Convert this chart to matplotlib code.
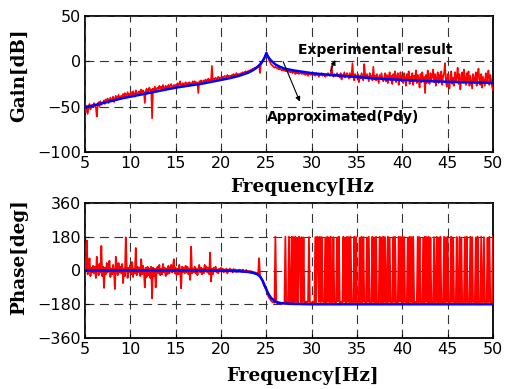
import numpy as np
import matplotlib
matplotlib.use("Agg")
import matplotlib.pyplot as plt

# ---------------- data ----------------
freq = np.linspace(5, 50, 451)  # measured frequency grid [Hz]

gain_meas = [
    -52, -56, -49, -58, -50, -47, -53, -51, -48, -50,
    -46, -49, -51, -61, -47, -45, -50, -44, -48, -46,
    -45, -43, -47, -42, -44, -41, -46, -43, -40, -44,
    -42, -39, -45, -41, -38, -43, -40, -37, -41, -39,
    -38, -41, -36, -39, -35, -40, -37, -34, -38, -36,
    -37, -34, -38, -33, -36, -39, -32, -35, -37, -34,
    -33, -36, -31, -35, -32, -34, -46, -33, -30, -34,
    -32, -29, -33, -31, -63, -30, -34, -28, -32, -30,
    -29, -31, -27, -30, -28, -32, -26, -29, -31, -27,
    -28, -30, -26, -29, -27, -25, -28, -30, -26, -27,
    -26, -28, -24, -27, -25, -22, -27, -26, -24, -28,
    -25, -23, -26, -24, -27, -23, -25, -24, -26, -22,
    -24, -22, -25, -23, -24, -35, -22, -23, -21, -24,
    -22, -21, -23, -20, -22, -21, -19, -22, -20, -21,
    -5, -21, -19, -20, -18, -20, -19, -17, -19, -18,
    -18, -19, -17, -18, -16, -17, -18, -15, -17, -16,
    -16, -17, -15, -16, -14, -16, -15, -13, -15, -14,
    -14, -15, -13, -14, -12, -13, -12, -11, -12, -11,
    -11, -10, -11, -9, -10, -8, -9, -7, -8, -6,
    -6, -5, -4, -13, -3, -2, 0, 2, 4, 6,
    10, 7, 4, 1, -1, -3, -4, -5, -6, -7,
    -6, -7, -8, -7, -9, -8, -9, -10, -9, -10,
    -9, -11, -10, -11, -10, -12, -11, -12, -11, -13,
    -11, -12, -14, -12, -13, -12, -14, -13, -12, -14,
    -13, -14, -12, -15, -13, -14, -16, -13, -14, -15,
    -14, -13, -15, -14, -16, -13, -15, -14, -17, -14,
    -15, -13, -16, -14, -15, -17, -14, -16, -13, -15,
    -16, -14, -5, -15, -17, -14, -16, -15, -13, -16,
    -15, -18, -13, -20, -15, -17, -12, -18, -15, -13,
    -16, -19, -13, -18, -15, -2, -17, -21, -14, -18,
    -17, -14, -23, -16, -19, -13, -18, -21, -3, -15,
    -19, -14, -18, -22, -13, -19, -16, -21, -6, -20,
    -16, -21, -14, -19, -24, -15, -20, -13, -19, -22,
    -18, -13, -22, -15, -24, -17, -12, -21, -16, -25,
    -14, -20, -11, -23, -17, -13, -26, -18, -12, -22,
    -16, -24, -13, -19, -27, -14, -21, -11, -25, -17,
    -22, -13, -26, -16, -20, -10, -24, -15, -19, -29,
    -14, -23, -12, -20, -17, -35, -15, -24, -10, -21,
    -25, -13, -22, -16, -9, -23, -14, -27, -18, -12,
    -24, -15, -21, -11, -26, -17, -13, -2, -22, -28,
    -14, -23, -30, -16, -11, -25, -18, -27, -12, -22,
    -17, -7, -25, -14, -31, -19, -12, -24, -9, -21,
    -26, -13, -22, -11, -27, -16, -23, -30, -14, -20,
    -24, -12, -27, -15, -8, -21, -26, -14, -29, -17,
    -22, -27, -13, -24, -16, -10, -26, -15, -21, -28,
    -32,
]

phase_meas = [
    10, 5, 160, -20, 30, 65, -30, 15, -10, 25,
    -15, 20, -40, 73, 5, -25, 35, -10, 131, -30,
    20, -93, 15, -20, 40, -10, 25, 52, -35, 10,
    -20, 30, -5, -99, 73, 15, -25, 40, -10, 20,
    -15, 35, -67, 10, -30, 177, 20, -40, 15, -10,
    30, -20, 45, -35, 10, -15, 120, -25, 20, -10,
    15, -30, 60, -20, 25, -10, -90, 15, -35, 20,
    -25, 10, -40, 20, -148, 15, -30, 10, -90, 5,
    20, -15, 30, -25, 10, -20, 35, -10, 15, -30,
    10, -20, 25, -15, 5, 30, -10, 20, 60, -15,
    15, -25, 10, -20, 30, -5, -95, 20, -10, 15,
    -15, 25, -10, 20, -20, 10, -50, 127, -15, 10,
    -10, 20, -15, 10, -25, 5, 30, -10, 15, -20,
    10, -15, 30, -5, 20, -10, 15, -20, 95, -58,
    10, -20, 15, -5, 20, -10, 5, -15, 10, -5,
    15, -5, 10, -10, 5, -5, 10, -15, 5, 0,
    10, -5, 5, -10, 8, -3, 5, -8, 3, -5,
    5, -5, 3, -8, 5, -3, 0, -5, 3, -8,
    -3, -8, -2, -10, -5, -12, -8, -15, -10, -18,
    -15, -20, 65, -28, -35, -45, -60, -75, -85, -95,
    -105, -120, -135, -145, -152, -160, -165, -168, -170, -172,
    180, -172, -175, -170, -176, -173, -177, -172, -175, -174,
    -176, 180, -174, -177, -173, 180, -175, -176, 180, -172,
    178, -170, 180, -168, 175, -172, 180, 175, -170, 178,
    -168, 176, -172, -170, -165, -172, -168, 178, -168, -170,
    -172, -168, -170, -170, 178, -172, 180, 176, -168, 180,
    -170, 178, -165, -168, -172, 175, -170, 180, -168, 177,
    -172, 180, -170, -168, 178, -172, -170, -170, 176, -165,
    180, -170, -168, -168, -172, 180, -166, 175, -170, 180,
    -168, 178, -172, 180, -170, -172, -168, 180, -172, 178,
    -170, -168, -168, 175, -172, 180, -170, 178, -166, -170,
    -172, 176, -168, 180, -170, -168, -172, 180, -168, 175,
    -170, 180, -172, -170, -168, 180, -170, 176, -172, 180,
    -168, 178, -170, -172, 180, -168, 175, -170, -168, -172,
    178, -168, 180, -170, -172, -172, 180, -166, 178, -170,
    180, -172, 178, -168, -170, -170, 175, -172, 180, -168,
    178, -170, 180, -172, -168, -168, -170, 180, -172, 178,
    -168, -170, -170, 175, -172, 180, -168, 178, -170, 180,
    -172, 176, -168, -170, -170, 178, -172, -168, 180, -170,
    175, -172, 180, -168, -170, -170, 180, -172, 176, -168,
    180, -170, -172, -172, 180, -168, 175, -170, -168, -172,
    178, -168, -170, 180, -172, 176, -168, -168, -170, 178,
    -172, 180, -168, -170, -170, 180, -172, 178, -168, -168,
    -170, 176, -172, 180, -168, -170, -170, 180, -172, -168,
    178, -170, -168, -172, 175, -168, 180, -170, -172, -172,
    180,
]

fit_freq = [5, 6, 7, 8, 9, 10, 11, 12, 13, 14, 15, 16, 17, 18, 19, 20, 21, 22, 23,
            23.5, 24, 24.3, 24.6, 24.8, 25, 25.2, 25.5, 26, 26.5, 27, 28, 29, 30,
            32, 34, 36, 38, 40, 42, 44, 46, 48, 50]
gain_fit = [-51, -48.5, -46, -43.5, -41, -39, -37, -35, -33, -31, -29, -27.5, -26,
            -24.5, -22.5, -20.5, -18.5, -16, -12.5,
            -10, -6.5, -3.5, 0.5, 4, 9, 5, 1, -3.5, -6, -8, -10, -11.5, -13,
            -15, -16.5, -18, -19.5, -20.5, -21.5, -22.2, -22.8, -23.3, -23.8]
phase_fit = [0] * 15 + [-1, -2, -4, -8,
             -12, -20, -32, -55, -78, -100, -122, -145, -166, -173, -176, -178, -179, -180,
             -180, -180, -180, -180, -180, -180, -180, -180, -180, -180]

x_ticks = [5, 10, 15, 20, 25, 30, 35, 40, 45, 50]
gain_ticks = [-100, -50, 0, 50]
phase_ticks = [-360, -180, 0, 180, 360]

# ---------------- plotting ----------------
W, H = 505, 389
fig = plt.figure(figsize=(W / 100, H / 100), dpi=100)

def px_axes(l, t, r, b):
    return fig.add_axes([l / W, 1 - b / H, (r - l) / W, (b - t) / H])

ax1 = px_axes(85, 16, 493, 152)
ax2 = px_axes(85, 203, 493, 338)

label_font = dict(family="DejaVu Serif", weight="bold", size=13.2)

for ax in (ax1, ax2):
    ax.set_xlim(5, 50)
    ax.set_xticks(x_ticks)
    ax.grid(True, color="#333333", linestyle=(0, (8, 5)), linewidth=0.8)
    ax.set_axisbelow(False)
    ax.tick_params(direction="in", length=3, width=0.8, labelsize=11.5, pad=3)
    for lab in ax.get_xticklabels() + ax.get_yticklabels():
        lab.set_fontfamily("DejaVu Sans")
    for s in ax.spines.values():
        s.set_linewidth(1.3)
        s.set_color("black")

ax1.plot(freq, gain_meas, color="#ff0000", lw=1.2, zorder=3)
ax1.plot(fit_freq, gain_fit, color="#0000ff", lw=1.8, zorder=4)
ax1.set_ylim(-100, 50)
ax1.set_yticks(gain_ticks)

ax2.plot(freq, phase_meas, color="#ff0000", lw=1.3, zorder=3)
ax2.plot(fit_freq, phase_fit, color="#0000ff", lw=1.8, zorder=4)
ax2.set_ylim(-360, 360)
ax2.set_yticks(phase_ticks)

# annotations
ax1.text(28.48, 12.5, "Experimental result", ha="left", va="center",
         fontsize=10, fontweight="bold", family="DejaVu Sans", zorder=6)
ax1.annotate("", xy=(32.6, 1.5), xytext=(32.1, -10.5),
             arrowprops=dict(arrowstyle="-|>", color="black", lw=0.8,
                             mutation_scale=7, shrinkA=0, shrinkB=0), zorder=6)
ax1.text(25.03, -61, "Approximated(Pdy)", ha="left", va="center",
         fontsize=10, fontweight="bold", family="DejaVu Sans", zorder=6)
ax1.annotate("", xy=(28.7, -44.5), xytext=(26.86, -0.4),
             arrowprops=dict(arrowstyle="-|>", color="black", lw=0.8,
                             mutation_scale=7, shrinkA=0, shrinkB=0), zorder=6)

# axis labels
fig.text(302 / W, 1 - 187 / H, "Frequency[Hz", ha="center", va="center", **label_font)
fig.text(302 / W, 1 - 376 / H, "Frequency[Hz]", ha="center", va="center", **label_font)
fig.text(19 / W, 1 - 75 / H, "Gain[dB]", ha="center", va="center", rotation=90, **label_font)
fig.text(19 / W, 1 - 257 / H, "Phase[deg]", ha="center", va="center", rotation=90, **label_font)

fig.savefig("out.png", dpi=100)
